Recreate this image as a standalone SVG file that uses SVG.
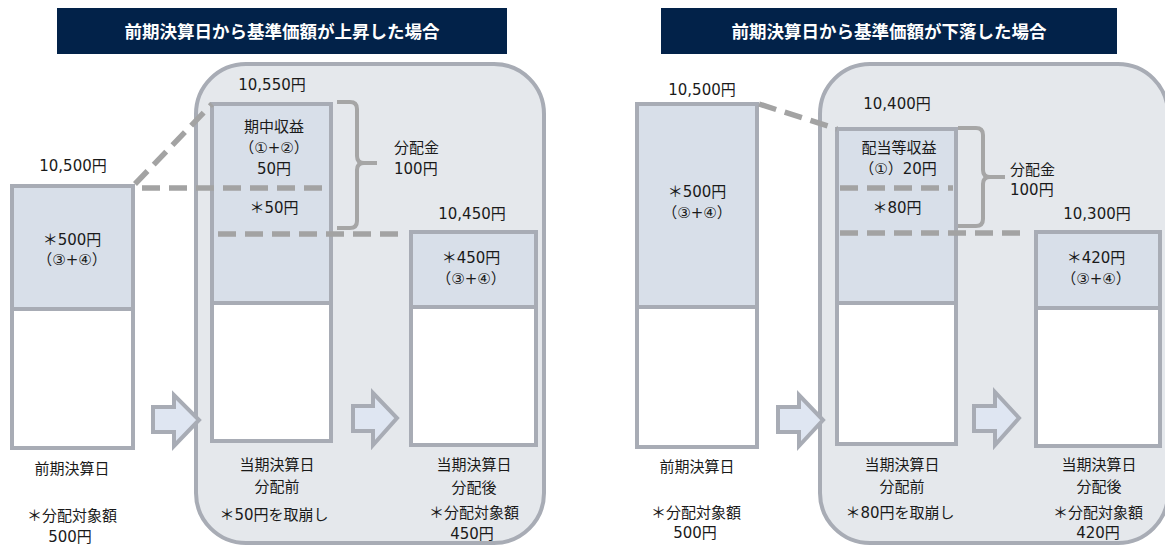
<svg xmlns="http://www.w3.org/2000/svg" width="1165" height="546" viewBox="0 0 1165 546">
<style>
.bg{fill:#ffffff}
.title{fill:#022249}
.tt{font-family:"Noto Sans CJK JP",sans-serif;font-size:17.5px;font-weight:bold;fill:#ffffff;text-anchor:middle}
.panel{fill:#e5e8ec;stroke:#a8acb5;stroke-width:4}
.box{fill:#ffffff;stroke:#a8acb5;stroke-width:4}
.top{fill:#d8dfe9}
.div{stroke:#a8acb5;stroke-width:4}
.t{font-family:"DejaVu Sans","Noto Sans CJK JP",sans-serif;font-size:15px;fill:#1a1a1a;text-anchor:middle}
.ts{font-family:"DejaVu Sans","Noto Sans CJK JP",sans-serif;font-size:15px;fill:#1a1a1a}
.dash{stroke:#a3a3a3;stroke-width:5.5;stroke-dasharray:18 9;fill:none}
.brace{stroke:#a6a6a6;stroke-width:4;fill:none;stroke-linejoin:round}
.arrow{fill:#dfe6f2;stroke:#a8acb5;stroke-width:4;stroke-linejoin:miter}
</style>
<rect class="bg" x="0" y="0" width="1165" height="546"/>

<g id="title-up">
<rect class="title" x="57" y="8" width="450" height="46"/>
<text class="tt" x="282" y="38">前期決算日から基準価額が上昇した場合</text>
</g>
<g id="title-down">
<rect class="title" x="661" y="8" width="456" height="46"/>
<text class="tt" x="889" y="38">前期決算日から基準価額が下落した場合</text>
</g>

<g id="panel-up"><rect class="panel" x="196" y="64" width="348" height="479" rx="50"/></g>
<g id="panel-down"><rect class="panel" x="820" y="64" width="348" height="479" rx="50"/></g>

<!-- Left scenario -->
<g id="up-prev">
<rect class="box" x="12" y="186" width="121" height="262"/>
<rect class="top" x="14" y="188" width="117" height="121"/>
<line class="div" x1="12" y1="309" x2="133" y2="309"/>
<text class="t" x="73" y="171">10,500円</text>
<text class="t" x="72" y="245">＊500円</text>
<text class="t" x="72" y="265">（③+④）</text>
<text class="t" x="72" y="474">前期決算日</text>
<text class="t" x="72" y="521">＊分配対象額</text>
<text class="t" x="70" y="542">500円</text>
</g>
<g id="up-before">
<rect class="box" x="212" y="104" width="119" height="337"/>
<rect class="top" x="214" y="106" width="115" height="197"/>
<line class="div" x1="212" y1="303" x2="331" y2="303"/>
<text class="t" x="272" y="90">10,550円</text>
<text class="t" x="274" y="132">期中収益</text>
<text class="t" x="274" y="153">（①+②）</text>
<text class="t" x="274" y="174">50円</text>
<text class="t" x="274" y="213">＊50円</text>
<text class="t" x="277" y="470">当期決算日</text>
<text class="t" x="277" y="492">分配前</text>
<text class="t" x="274" y="520">＊50円を取崩し</text>
</g>
<g id="up-dist">
<text class="ts" x="394" y="153">分配金</text>
<text class="ts" x="394" y="174">100円</text>
</g>
<g id="up-after">
<rect class="box" x="411" y="232" width="125" height="213"/>
<rect class="top" x="413" y="234" width="121" height="73"/>
<line class="div" x1="411" y1="307" x2="536" y2="307"/>
<text class="t" x="472" y="219">10,450円</text>
<text class="t" x="471" y="263">＊450円</text>
<text class="t" x="471" y="284">（③+④）</text>
<text class="t" x="474" y="470">当期決算日</text>
<text class="t" x="474" y="493">分配後</text>
<text class="t" x="474" y="518">＊分配対象額</text>
<text class="t" x="472" y="539">450円</text>
</g>

<!-- Right scenario -->
<g id="down-prev">
<rect class="box" x="637" y="104" width="120" height="343"/>
<rect class="top" x="639" y="106" width="116" height="201"/>
<line class="div" x1="637" y1="307" x2="757" y2="307"/>
<text class="t" x="702" y="95">10,500円</text>
<text class="t" x="697" y="197">＊500円</text>
<text class="t" x="697" y="218">（③+④）</text>
<text class="t" x="697" y="472">前期決算日</text>
<text class="t" x="696" y="518">＊分配対象額</text>
<text class="t" x="695" y="538">500円</text>
</g>
<g id="down-before">
<rect class="box" x="837" y="129" width="119" height="315"/>
<rect class="top" x="839" y="131" width="115" height="172"/>
<line class="div" x1="837" y1="303" x2="956" y2="303"/>
<text class="t" x="897" y="109">10,400円</text>
<text class="t" x="899" y="153">配当等収益</text>
<text class="t" x="898" y="174">（①）20円</text>
<text class="t" x="897" y="213">＊80円</text>
<text class="t" x="902" y="470">当期決算日</text>
<text class="t" x="902" y="492">分配前</text>
<text class="t" x="900" y="518">＊80円を取崩し</text>
</g>
<g id="down-dist">
<text class="ts" x="1010" y="175">分配金</text>
<text class="ts" x="1010" y="195">100円</text>
</g>
<g id="down-after">
<rect class="box" x="1036" y="232" width="124" height="214"/>
<rect class="top" x="1038" y="234" width="120" height="74"/>
<line class="div" x1="1036" y1="308" x2="1160" y2="308"/>
<text class="t" x="1097" y="219">10,300円</text>
<text class="t" x="1096" y="263">＊420円</text>
<text class="t" x="1096" y="284">（③+④）</text>
<text class="t" x="1099" y="470">当期決算日</text>
<text class="t" x="1099" y="492">分配後</text>
<text class="t" x="1098" y="518">＊分配対象額</text>
<text class="t" x="1098" y="538">420円</text>
</g>

<g id="connectors">
<line class="dash" x1="135" y1="184" x2="212" y2="104"/>
<line class="dash" x1="142" y1="188" x2="328" y2="188"/>
<line class="dash" x1="218" y1="234" x2="398" y2="234"/>
<path class="brace" d="M337,102 H350 Q357,102 357,109 V156 Q357,163 364,163 H377 M364,163 Q357,163 357,170 V221 Q357,228 350,228 H337"/>
<polygon class="arrow" points="153,407 174,407 174,395 199,420 174,446 174,432 153,432"/>
<polygon class="arrow" points="353,406 373,406 373,393 397,418 373,445 373,431 353,431"/>

<line class="dash" x1="759" y1="104" x2="837" y2="129"/>
<line class="dash" x1="840" y1="188" x2="953" y2="188"/>
<line class="dash" x1="840" y1="233" x2="1022" y2="233"/>
<path class="brace" d="M958,128 H976 Q983,128 983,135 V170 Q983,177 990,177 H1005 M990,177 Q983,177 983,184 V219 Q983,226 976,226 H958"/>
<polygon class="arrow" points="778,407 799,407 799,395 823,420 799,446 799,432 778,432"/>
<polygon class="arrow" points="974,406 995,406 995,392 1019,418 995,445 995,431 974,431"/>
</g>
</svg>
